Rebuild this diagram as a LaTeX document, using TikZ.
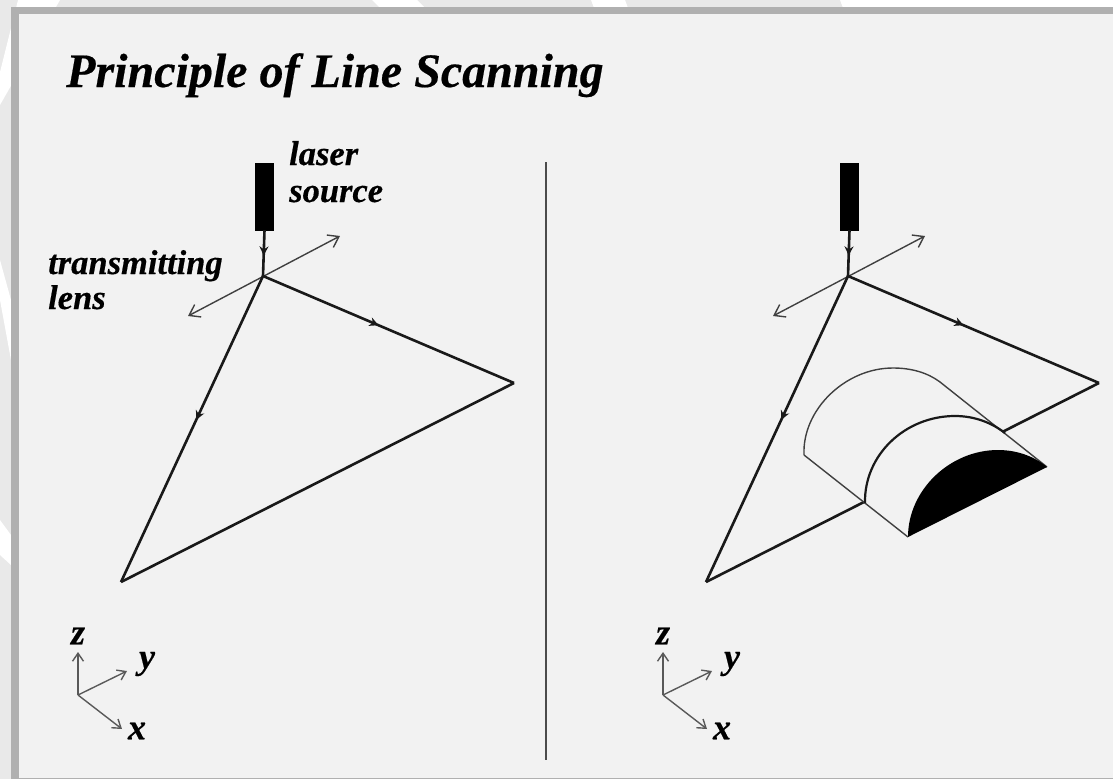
\documentclass[tikz,border=0pt]{standalone}
\usepackage{fontspec}
\setmainfont[BoldItalicFeatures={FakeBold=0.4}]{Liberation Serif}
\usetikzlibrary{arrows.meta,decorations.markings}
\definecolor{paper}{HTML}{F2F2F2}
\definecolor{margin}{HTML}{E9E9E9}
\definecolor{framegray}{HTML}{B0B0B0}
\begin{document}
\begin{tikzpicture}[
      x=1pt, y=-1pt,
      laser/.style={rectangle, draw=black, fill=black, inner sep=0pt, minimum width=18pt, minimum height=67pt},
      ray/.style={black!90, line width=2.6pt},
      lensarrow/.style={black!75, line width=1.4pt, {Straight Barb[length=10pt,width=14pt]}-{Straight Barb[length=10pt,width=14pt]}},
      axis/.style={black!65, line width=1.4pt, -{Straight Barb[length=8pt,width=11pt]}},
      flow/.style={postaction={decorate}, decoration={markings, mark=at position #1 with {\arrow{Stealth[length=9pt,width=9pt]}}}},
      lbl/.style={font=\fontsize{34.5}{34.5}\selectfont\bfseries\itshape, anchor=base west, inner sep=0pt},
      axlbl/.style={font=\fontsize{36}{36}\selectfont\bfseries\itshape, inner sep=0pt},
      wedge/.style={fill=white}
    ]
    % Sheet, its pale wedges and its frame
    \fill[margin] (0,0) rectangle (1113,779);
    \fill[wedge] (18,0) -- (60,0) -- (0,105) -- (0,72) -- cycle;
    \fill[wedge] (372,0) -- (417,0) -- (425,8) -- (380,8) -- cycle;
    \fill[wedge] (591,0) -- (625,0) -- (628,8) -- (594,8) -- cycle;
    \fill[wedge] (840,0) -- (1113,0) -- (1113,8) -- (843,8) -- cycle;
    \fill[wedge] (0,260) -- (11,300) -- (11,360) -- (0,300) -- cycle;
    \fill[wedge] (0,520) -- (11,535) -- (11,565) -- (0,555) -- cycle;
    \fill[framegray] (11,7) rectangle (1113,779);
    \fill[paper] (19,14) rectangle (1113,778);
    \useasboundingbox (0,0) rectangle (1113,779);
    % Title and divider
    \node[font=\fontsize{48}{48}\selectfont\bfseries\itshape, anchor=base west, inner sep=0pt] (title) at (66,87) {Principle of Line Scanning};
    \coordinate (divtop) at (546,162);
    \coordinate (divbot) at (546,760);
    \draw[black!70, line width=1.2pt] (divtop) -- (divbot);
    % Setup repeated in both panels
    \foreach \p/\off in {l/0, r/585} {
      \begin{scope}[xshift=\off pt]
        \node[laser] (\p src) at (264.5,196.5) {};
        \coordinate (\p lens) at (263,276);
        \coordinate (\p tip) at (514,383);
        \coordinate (\p base) at (121,582);
        \coordinate (\p la) at (188,316);
        \coordinate (\p lb) at (340,236);
        \draw[ray, flow=0.55] (\p src.south) -- (\p lens);
        \draw[lensarrow] (\p la) -- (\p lb);
        \draw[ray, flow=0.46] (\p lens) -- (\p tip);
        \draw[ray] (\p tip) -- (\p base);
        \draw[ray, flow=0.47] (\p lens) -- (\p base);
        % Axes
        \coordinate (\p o) at (78,695);
        \coordinate (\p z) at (78,652);
        \coordinate (\p y) at (127,671);
        \coordinate (\p x) at (122,729);
        \draw[axis] (\p o) -- (\p z);
        \draw[axis] (\p o) -- (\p y);
        \draw[axis] (\p o) -- (\p x);
        \node[axlbl] (\p zl) at (78,636) {z};
        \node[axlbl] (\p yl) at (147,664) {y};
        \node[axlbl] (\p xl) at (137,731) {x};
      \end{scope}
    }
    % Labels of the left panel
    \node[lbl] (laserlbl) at (289,165) {laser};
    \node[lbl] (sourcelbl) at (289,202) {source};
    \node[lbl] (translbl) at (48,274) {transmitting};
    \node[lbl] (lenslbl) at (48,309) {lens};
    % Object on the right panel
    \coordinate (backl) at (804,455);
    \coordinate (backr) at (940,382);
    \coordinate (midl) at (865,503);
    \coordinate (midr) at (1005,433);
    \coordinate (frontl) at (908,537);
    \coordinate (frontr) at (1047,467);
    \fill[paper] (backl) .. controls (802,410) and (845,368) .. (893,368)
      .. controls (912,368) and (928,373) .. (backr) -- (frontr) -- (frontl) -- cycle;
    \draw[black!75, line width=1.4pt] (backl) .. controls (802,410) and (845,368) .. (893,368)
      .. controls (912,368) and (928,373) .. (backr) -- (frontr);
    \draw[black!75, line width=1.4pt] (backl) -- (frontl);
    \draw[black!90, line width=2.2pt] (midl) .. controls (864,455) and (905,416) .. (955,416)
      .. controls (975,416) and (992,423) .. (midr);
    \fill[black] (frontl) .. controls (908,490) and (950,450) .. (998,450)
      .. controls (1018,450) and (1035,457) .. (frontr) -- cycle;
\end{tikzpicture}
\end{document}
